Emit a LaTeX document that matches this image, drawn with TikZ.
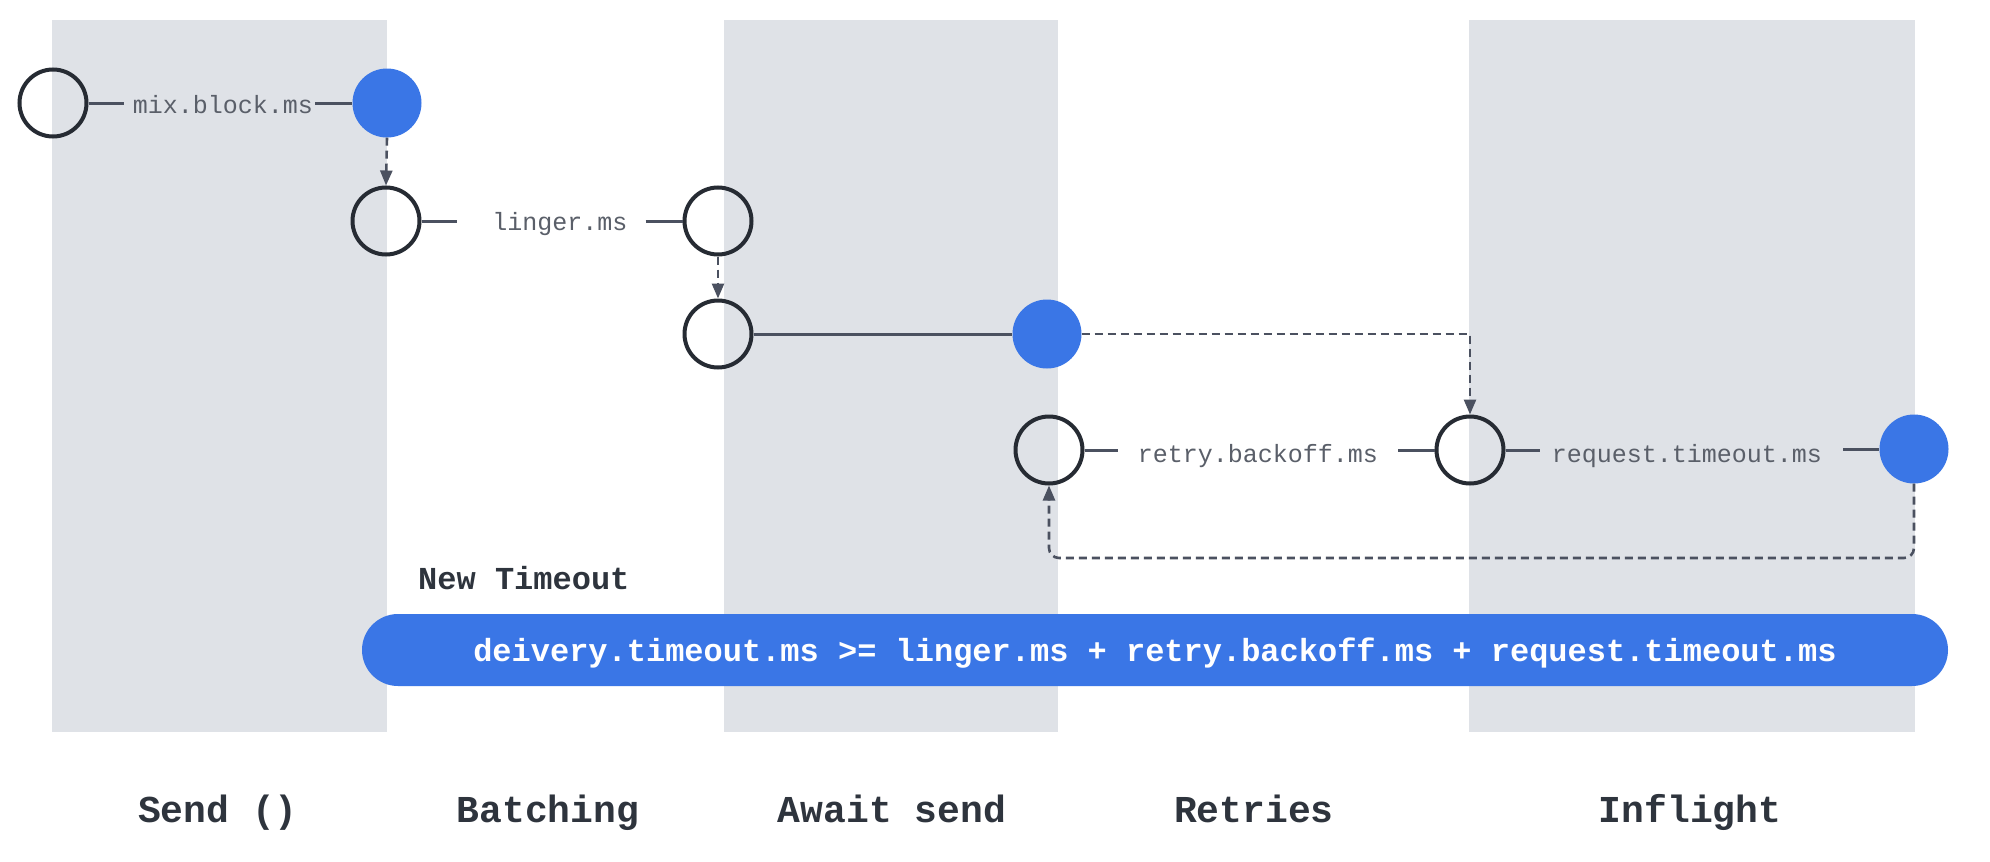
\documentclass[tikz,border=0pt]{standalone}
\usepackage{fontspec}
\setmonofont{Liberation Mono}
\usetikzlibrary{arrows.meta}
\definecolor{colbg}{HTML}{DFE2E7}
\definecolor{blueA}{HTML}{3A76E6}
\definecolor{ink}{HTML}{262B33}
\definecolor{wire}{HTML}{4B5160}
\definecolor{lbl}{HTML}{2E343D}
\definecolor{smalltxt}{HTML}{5A5F69}
\begin{document}
\begin{tikzpicture}[x=1pt,y=-1pt,
  opencirc/.style={circle,draw=ink,line width=4pt,minimum size=67pt,inner sep=0pt},
  bluecirc/.style={circle,fill=blueA,minimum size=69pt,inner sep=0pt},
  wirestyle/.style={draw=wire,line width=3pt},
  dasharrow/.style={draw=wire,line width=2.6pt,dash pattern=on 8pt off 5pt,-{Triangle[length=15pt,width=12pt]}},
  smalllab/.style={font=\ttfamily\fontsize{25}{28}\selectfont,text=smalltxt,inner sep=0pt,anchor=base},
  phase/.style={font=\ttfamily\bfseries\fontsize{38}{42}\selectfont,text=lbl,inner sep=0pt,anchor=base},
  column/.style={fill=colbg,draw=none}]
\fill[white] (0,0) rectangle (1990,862);
\useasboundingbox (0,0) rectangle (1990,862);
% columns
\path[column] (52,20) rectangle (387,732);
\path[column] (724,20) rectangle (1058,732);
\path[column] (1469,20) rectangle (1915,732);
% circles
\node[opencirc] (c1) at (53,103) {};
\node[bluecirc] (b1) at (387,103) {};
\node[opencirc] (c2) at (386,221) {};
\node[opencirc] (c3) at (718,221) {};
\node[opencirc] (c4) at (718,334) {};
\node[bluecirc] (b2) at (1047,334) {};
\node[opencirc] (c5) at (1049,450) {};
\node[opencirc] (c6) at (1470,450) {};
\node[bluecirc] (b3) at (1914,449) {};
% labels
\node[smalllab] (l1) at (223,113) {mix.block.ms};
\node[smalllab] (l2) at (560,230) {linger.ms};
\node[smalllab] (l3) at (1258,462) {retry.backoff.ms};
\node[smalllab] (l4) at (1687,462) {request.timeout.ms};
% solid connectors
\draw[wirestyle] (c1.east) -- ([xshift=-9pt]l1.west |- c1.east);
\draw[wirestyle] ([xshift=2pt]l1.east |- b1.west) -- (b1.west);
\draw[wirestyle] (c2.east) -- ([xshift=-35pt]l2.west |- c2.east);
\draw[wirestyle] ([xshift=18pt]l2.east |- c3.west) -- (c3.west);
\draw[wirestyle] (c4.east) -- (b2.west);
\draw[wirestyle] (c5.east) -- ([xshift=-20pt]l3.west |- c5.east);
\draw[wirestyle] ([xshift=20pt]l3.east |- c6.west) -- (c6.west);
\draw[wirestyle] (c6.east) -- ([xshift=-12pt]l4.west |- c6.east);
\draw[wirestyle] ([xshift=21pt]l4.east |- b3.west) -- (b3.west);
% dashed arrows
\draw[dasharrow] (b1.south) -- (c2.north);
\draw[dasharrow] (c3.south) -- (c4.north);
\draw[dasharrow] (b2.east) -| (c6.north);
\coordinate (loopc) at (1914,558);
\draw[dasharrow,rounded corners=10pt] (b3.south) -- (loopc) -| (c5.south);
% new timeout
\node[font=\ttfamily\bfseries\fontsize{32}{36}\selectfont,text=lbl,inner sep=0pt,anchor=base west] (nt) at (418,589) {New Timeout};
\node[fill=blueA,rounded corners=36pt,minimum width=1586pt,minimum height=72pt,inner sep=0pt] (pill) at (1155,650) {};
\node[font=\ttfamily\bfseries\fontsize{32}{36}\selectfont,text=white,inner sep=0pt,anchor=base] (formula) at (1155,661) {deivery.timeout.ms >= linger.ms + retry.backoff.ms + request.timeout.ms};
% phase labels
\node[phase] (p1) at (218,822) {Send ()};
\node[phase] (p2) at (548,822) {Batching};
\node[phase] (p3) at (892,822) {Await send};
\node[phase] (p4) at (1254,822) {Retries};
\node[phase] (p5) at (1690,822) {Inflight};
\end{tikzpicture}
\end{document}
